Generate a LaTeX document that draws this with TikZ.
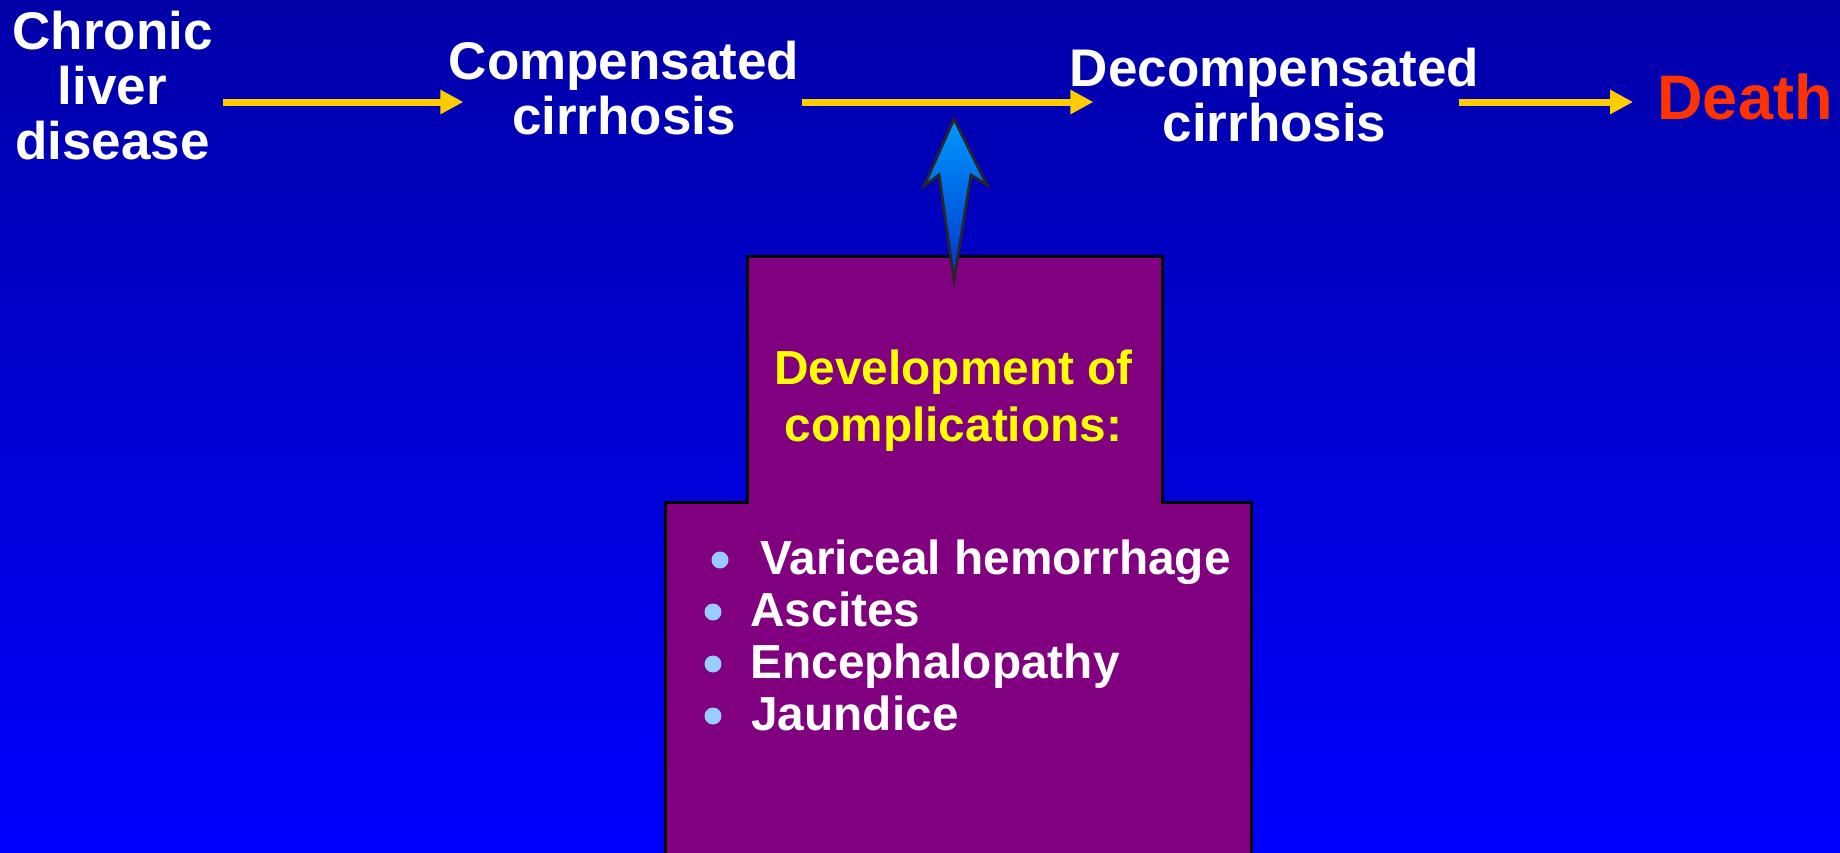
\documentclass[tikz,border=0pt]{standalone}
\usepackage{fontspec}
\setmainfont{Liberation Sans}
\usetikzlibrary{arrows.meta,calc}

\definecolor{bgtop}{RGB}{0,0,168}
\definecolor{bgbot}{RGB}{0,0,255}
\definecolor{complpurple}{RGB}{128,0,128}
\definecolor{flowyellow}{RGB}{255,204,0}
\definecolor{deathred}{RGB}{255,51,0}
\definecolor{devyellow}{RGB}{255,255,0}
\definecolor{dotblue}{RGB}{153,204,255}
\definecolor{pushtop}{RGB}{0,153,255}
\definecolor{pushbot}{RGB}{0,51,204}

\tikzset{
  stage/.style={font=\bfseries\fontsize{26.5}{27.5}\selectfont, text=white, align=center, inner sep=0pt},
  flow/.style={draw=flowyellow, line width=3.5pt, -{Triangle[length=11.5pt,width=11.5pt]}},
  complbox/.style={fill=complpurple, draw=black, line width=1.5pt},
  pusharrow/.style={top color=pushtop, bottom color=pushbot, draw=black!85, line width=1.4pt, line join=miter},
  develop/.style={font=\bfseries\fontsize{23.9}{28.5}\selectfont, text=devyellow, align=center, inner sep=0pt},
  item/.style={font=\bfseries\fontsize{23.9}{26}\selectfont, text=white, inner sep=0pt, anchor=base west},
  bulletdot/.style={fill=dotblue},
}

\begin{document}
\begin{tikzpicture}[x=0.5pt,y=-0.5pt]
    % Background
    \useasboundingbox (0,0) rectangle (1840,852);
    \shade[top color=bgtop, bottom color=bgbot] (0,0) rectangle (1840,852);

    % Complications box
    \draw[complbox] (665,860) -- (665,502) -- (747,502) -- (747,256) -- (1162,256)
        -- (1162,502) -- (1251,502) -- (1251,860) -- cycle;

    % Stages of the disease
    \node[stage] (chronic) at (112.5,85.5) {Chronic\\liver\\disease};
    \node[stage] (comp) at (624,88) {Compensated\\cirrhosis};
    \node[stage] (decomp) at (1274.5,95) {Decompensated\\cirrhosis};
    \node[stage, text=deathred, font=\bfseries\fontsize{31.5}{33}\selectfont] (death) at (1745,96.5) {Death};

    \coordinate (axis) at (0,102);
    \draw[flow] ($(chronic.east |- axis)+(10,0)$) -- ($(comp.west |- axis)+(15,0)$);
    \draw[flow] ($(comp.east |- axis)+(2,0)$) -- ($(decomp.west |- axis)+(24,0)$);
    \draw[flow] ($(decomp.east |- axis)+(-21,0)$) -- ($(death.west |- axis)+(-24,0)$);

    % Push towards decompensation
    \draw[pusharrow] (954,119) -- (987,185) -- (971,175) -- (954,280) -- (939,175) -- (924,186) -- cycle;

    % Complications
    \node[develop] (develop) at (953.5,401) {Development of\\complications:};
    \node[item] (varix) at (760,574) {Variceal hemorrhage};
    \node[item] (ascites) at (750,626) {Ascites};
    \node[item] (enceph) at (750,678) {Encephalopathy};
    \node[item] (jaundice) at (751,730) {Jaundice};
    \fill[bulletdot] ($(varix.base west)+(-40,-14)$) circle (8.5);
    \fill[bulletdot] ($(ascites.base west)+(-37,-14)$) circle (8.5);
    \fill[bulletdot] ($(enceph.base west)+(-37,-14)$) circle (8.5);
    \fill[bulletdot] ($(jaundice.base west)+(-38,-14)$) circle (8.5);
\end{tikzpicture}
\end{document}
